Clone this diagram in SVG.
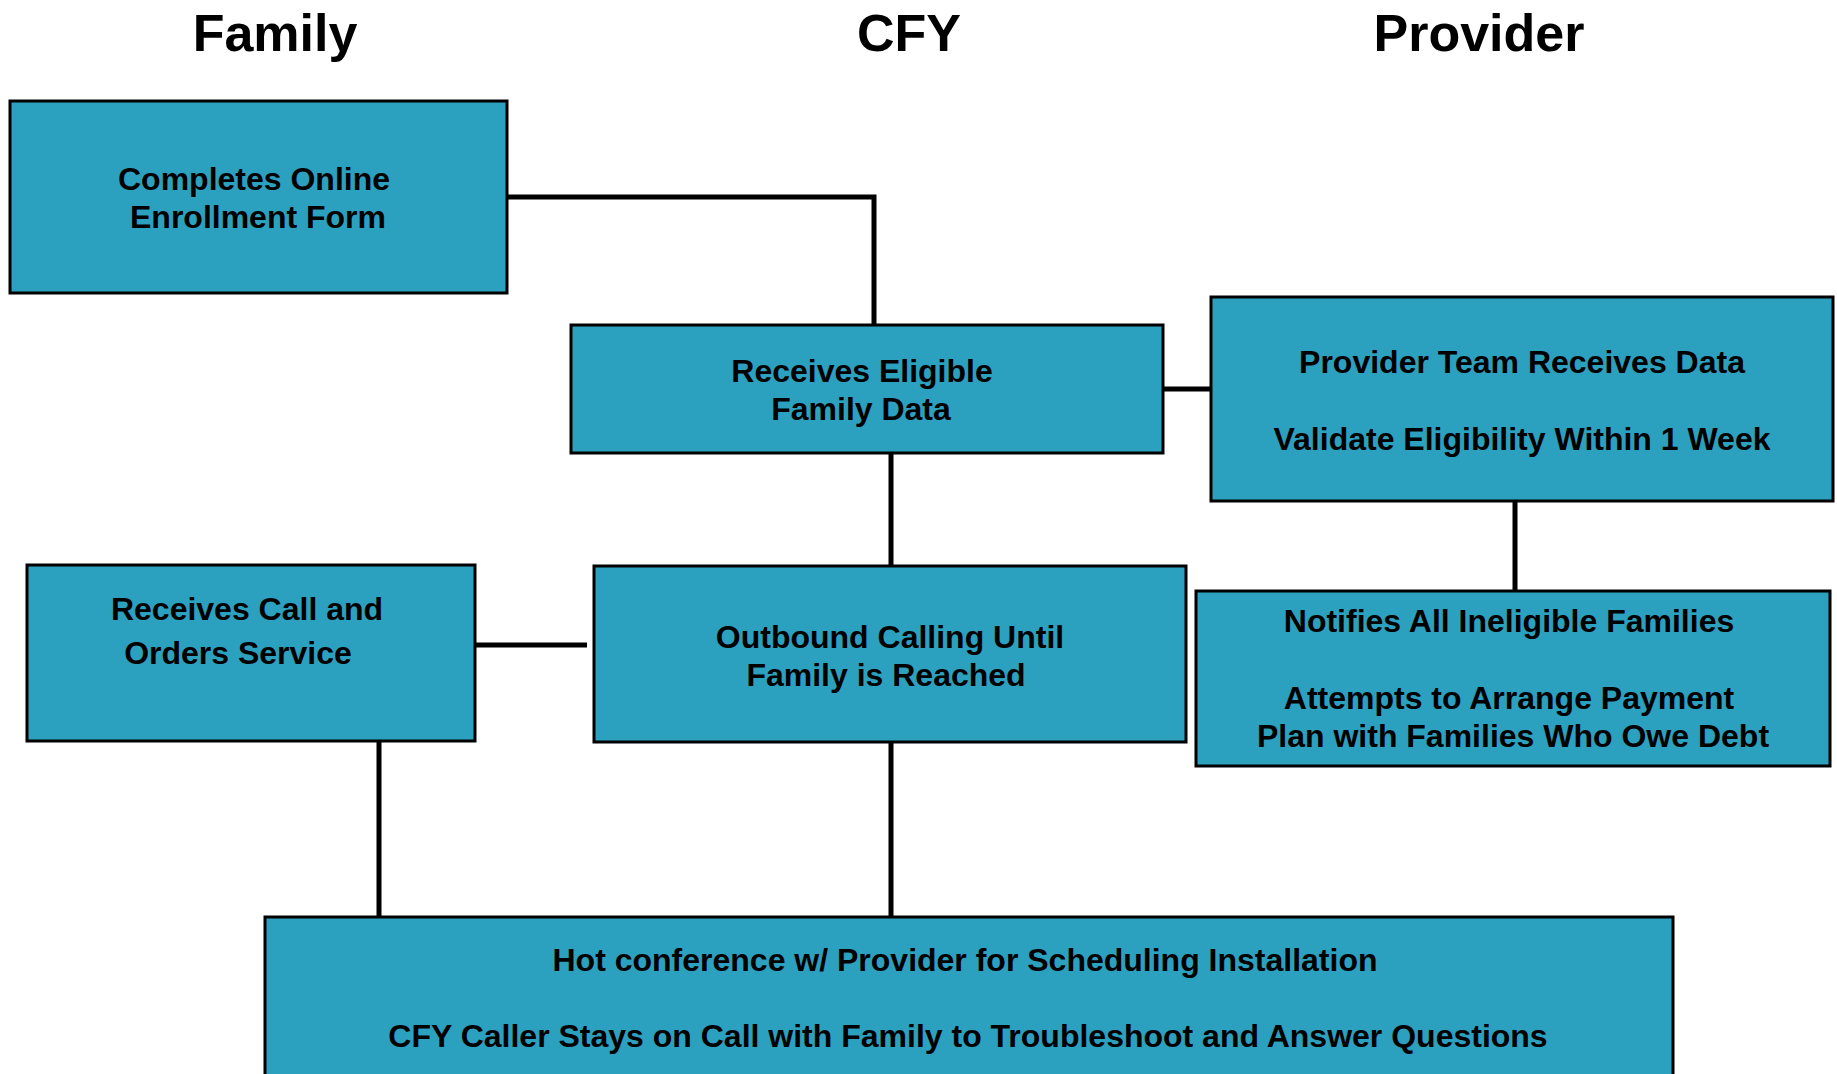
<svg xmlns="http://www.w3.org/2000/svg" width="1837" height="1074" viewBox="0 0 1837 1074">
<style>
.box{fill:#2ca1bf;stroke:#000;stroke-width:3}
.t{font-family:"Liberation Sans",Arial,sans-serif;font-weight:bold;font-size:32px;fill:#000;text-anchor:middle}
.h{font-family:"Liberation Sans",Arial,sans-serif;font-weight:bold;font-size:52px;fill:#000;text-anchor:middle}
.c{fill:none;stroke:#000;stroke-width:5}
</style>
<rect width="1837" height="1074" fill="#fff"/>
<g id="headers">
<text class="h" x="275" y="51">Family</text>
<text class="h" x="909" y="51">CFY</text>
<text class="h" x="1479" y="51">Provider</text>
</g>
<g id="connectors">
<polyline class="c" points="507,197 874,197 874,325"/>
<line class="c" x1="1163" y1="389" x2="1211" y2="389"/>
<line class="c" x1="891" y1="453" x2="891" y2="566"/>
<line class="c" x1="1515" y1="501" x2="1515" y2="596"/>
<line class="c" x1="475" y1="645" x2="587" y2="645"/>
<line class="c" x1="379" y1="741" x2="379" y2="917"/>
<line class="c" x1="891" y1="742" x2="891" y2="917"/>
</g>
<g id="n1">
<rect class="box" x="10" y="101" width="497" height="192"/>
<text class="t" x="254" y="190">Completes Online</text>
<text class="t" x="258" y="228">Enrollment Form</text>
</g>
<g id="n2">
<rect class="box" x="571" y="325" width="592" height="128"/>
<text class="t" x="862" y="382">Receives Eligible</text>
<text class="t" x="861" y="420">Family Data</text>
</g>
<g id="n3">
<rect class="box" x="1211" y="297" width="622" height="204"/>
<text class="t" x="1522" y="373">Provider Team Receives Data</text>
<text class="t" x="1522" y="450">Validate Eligibility Within 1 Week</text>
</g>
<g id="n4">
<rect class="box" x="1196" y="591" width="634" height="175"/>
<text class="t" x="1509" y="632">Notifies All Ineligible Families</text>
<text class="t" x="1509" y="709">Attempts to Arrange Payment</text>
<text class="t" x="1513" y="747">Plan with Families Who Owe Debt</text>
</g>
<g id="n5">
<rect class="box" x="27" y="565" width="448" height="176"/>
<text class="t" x="247" y="620">Receives Call and</text>
<text class="t" x="238" y="664">Orders Service</text>
</g>
<g id="n6">
<rect class="box" x="594" y="566" width="592" height="176"/>
<text class="t" x="890" y="648">Outbound Calling Until</text>
<text class="t" x="886" y="686">Family is Reached</text>
</g>
<g id="n7">
<rect class="box" x="265" y="917" width="1408" height="180"/>
<text class="t" x="965" y="971">Hot conference w/ Provider for Scheduling Installation</text>
<text class="t" x="968" y="1047">CFY Caller Stays on Call with Family to Troubleshoot and Answer Questions</text>
</g>
</svg>
